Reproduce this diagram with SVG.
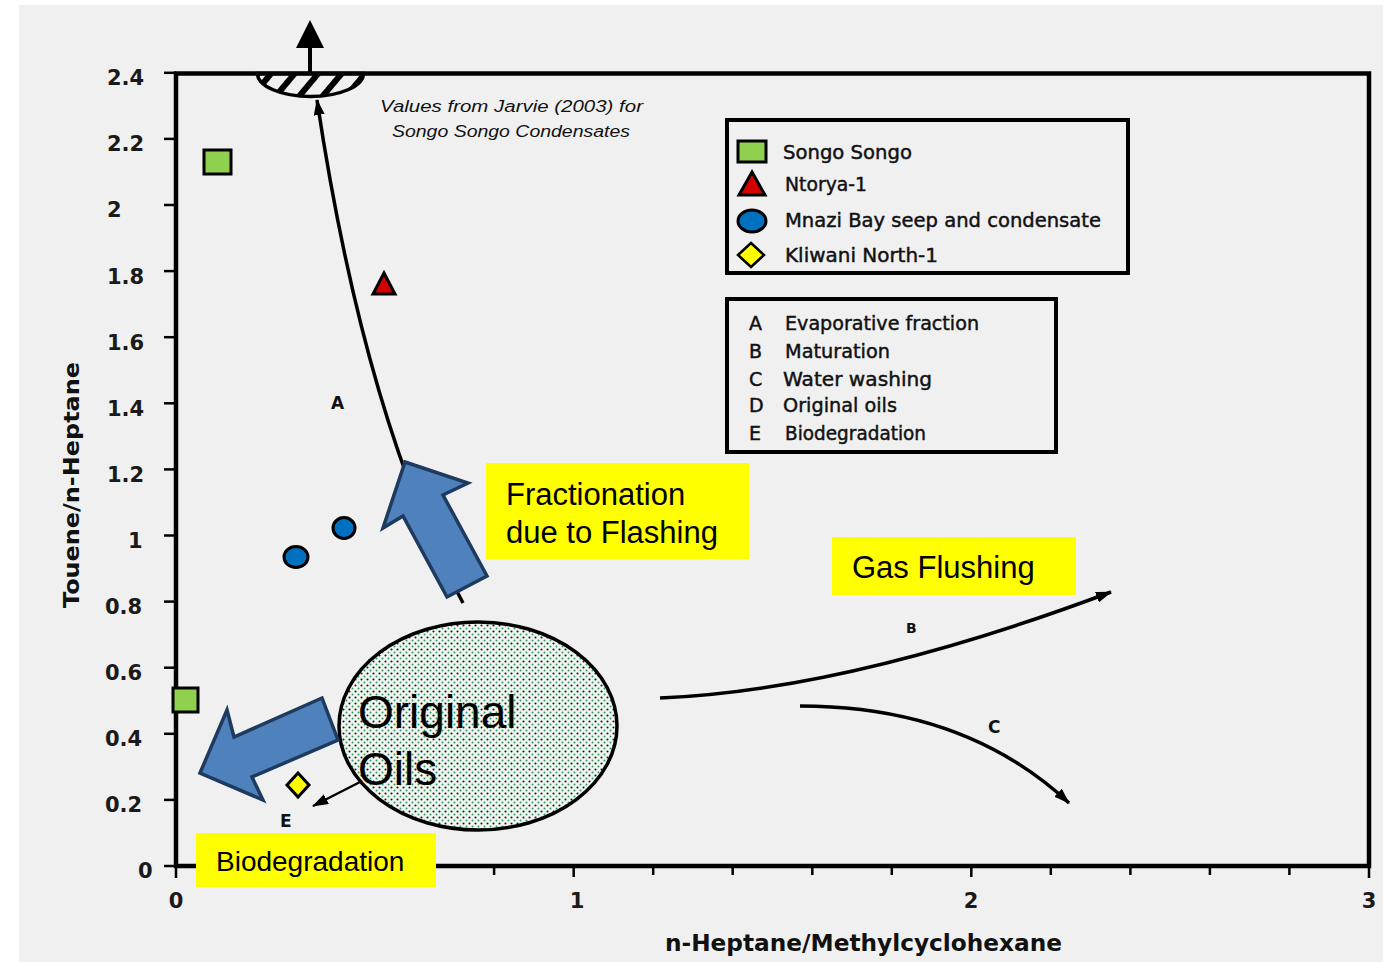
<svg xmlns="http://www.w3.org/2000/svg" width="1383" height="962" viewBox="0 0 1383 962">
<style>
.tick{font-family:"DejaVu Sans",sans-serif;font-size:21px;font-weight:bold;fill:#1a1a1a}
.leg{font-family:"DejaVu Sans",sans-serif;font-size:19px;fill:#111;stroke:#111;stroke-width:0.45}
.lab{font-family:"DejaVu Sans",sans-serif;font-weight:bold;fill:#111}
.note{font-family:"Liberation Sans",Arial,sans-serif;font-style:italic;font-size:16px;fill:#111}
.big{font-family:"Liberation Sans",Arial,sans-serif;fill:#000}
.curve{fill:none;stroke:#000;stroke-width:3.5}
.box{fill:#ffff00}
.barrow{fill:#4f81bd;stroke:#1f3a5f;stroke-width:3.5;stroke-linejoin:miter}
.axis{fill:none;stroke:#000;stroke-width:4.5}
.tk{stroke:#000;stroke-width:2.5}
</style>
<defs>
<marker id="ah" viewBox="0 0 16 11" refX="15" refY="5.5" markerWidth="16" markerHeight="11" markerUnits="userSpaceOnUse" orient="auto">
<path d="M0,0 L16,5.5 L0,11 z" fill="#000"/>
</marker>
<pattern id="hatch" width="18" height="18" patternUnits="userSpaceOnUse" patternTransform="rotate(40)">
<rect width="6" height="18" fill="#000"/>
</pattern>
<pattern id="dots" width="6" height="6" patternUnits="userSpaceOnUse">
<rect width="6" height="6" fill="#f0f5f0"/>
<circle cx="1.5" cy="1.5" r="1.05" fill="#1a1a1a"/>
<circle cx="4.5" cy="4.5" r="1" fill="#2e9a5e"/>
</pattern>
</defs>
<rect x="0" y="0" width="1383" height="962" fill="#ffffff"/>
<rect x="19" y="5" width="1364" height="957" fill="#f0f0f0"/>

<g id="axes">
<rect class="axis" x="176" y="73.5" width="1193" height="792.5"/>
<g class="tk">
<line x1="164" y1="866" x2="176" y2="866"/>
<line x1="164" y1="799.9" x2="176" y2="799.9"/>
<line x1="164" y1="733.8" x2="176" y2="733.8"/>
<line x1="164" y1="667.7" x2="176" y2="667.7"/>
<line x1="164" y1="601.6" x2="176" y2="601.6"/>
<line x1="164" y1="535.5" x2="176" y2="535.5"/>
<line x1="164" y1="469.4" x2="176" y2="469.4"/>
<line x1="164" y1="403.3" x2="176" y2="403.3"/>
<line x1="164" y1="337.2" x2="176" y2="337.2"/>
<line x1="164" y1="271.1" x2="176" y2="271.1"/>
<line x1="164" y1="205" x2="176" y2="205"/>
<line x1="164" y1="138.9" x2="176" y2="138.9"/>
<line x1="164" y1="72.8" x2="176" y2="72.8"/>
<line x1="176" y1="866" x2="176" y2="878"/>
<line x1="255.5" y1="866" x2="255.5" y2="875"/>
<line x1="335" y1="866" x2="335" y2="875"/>
<line x1="414.6" y1="866" x2="414.6" y2="875"/>
<line x1="494.1" y1="866" x2="494.1" y2="875"/>
<line x1="573.7" y1="866" x2="573.7" y2="877"/>
<line x1="653.2" y1="866" x2="653.2" y2="875"/>
<line x1="732.7" y1="866" x2="732.7" y2="875"/>
<line x1="812.3" y1="866" x2="812.3" y2="875"/>
<line x1="891.8" y1="866" x2="891.8" y2="875"/>
<line x1="971.3" y1="866" x2="971.3" y2="877"/>
<line x1="1050.8" y1="866" x2="1050.8" y2="875"/>
<line x1="1130.4" y1="866" x2="1130.4" y2="875"/>
<line x1="1209.9" y1="866" x2="1209.9" y2="875"/>
<line x1="1289.4" y1="866" x2="1289.4" y2="875"/>
<line x1="1369" y1="866" x2="1369" y2="878"/>
</g>
<g class="tick">
<text x="107" y="85">2.4</text>
<text x="107" y="151">2.2</text>
<text x="107" y="217">2</text>
<text x="107" y="284">1.8</text>
<text x="107" y="350">1.6</text>
<text x="107" y="416">1.4</text>
<text x="107" y="482">1.2</text>
<text x="128" y="548">1</text>
<text x="105" y="614">0.8</text>
<text x="105" y="680">0.6</text>
<text x="105" y="746">0.4</text>
<text x="105" y="812">0.2</text>
<text x="138" y="878">0</text>
</g>
<g class="tick" text-anchor="middle">
<text x="176" y="908">0</text>
<text x="577" y="908">1</text>
<text x="971" y="908">2</text>
<text x="1369" y="908">3</text>
</g>
<text class="lab" x="665" y="951" font-size="23" textLength="397" lengthAdjust="spacingAndGlyphs">n-Heptane/Methylcyclohexane</text>
<text class="lab" transform="translate(79,608) rotate(-90)" x="0" y="0" font-size="22" textLength="246" lengthAdjust="spacingAndGlyphs">Touene/n-Heptane</text>
</g>

<g id="hatched-zone">
<path d="M257.5,73.5 A53,23 0 0 0 363.5,73.5 Z" fill="url(#hatch)" stroke="#000" stroke-width="3.5"/>
</g>

<g id="note">
<text class="note" x="380" y="112" textLength="263" lengthAdjust="spacingAndGlyphs">Values  from  Jarvie  (2003)  for</text>
<text class="note" x="392" y="137" textLength="238" lengthAdjust="spacingAndGlyphs">Songo   Songo   Condensates</text>
</g>

<g id="connectors">
<line x1="310" y1="73" x2="310" y2="40" stroke="#000" stroke-width="4"/>
<polygon points="310,20 324,48 296,48" fill="#000"/>
<path class="curve" d="M463,603 Q365,420 317,100" marker-end="url(#ah)"/>
<path class="curve" d="M660,698 Q850,690 1111,592" marker-end="url(#ah)"/>
<path class="curve" d="M800,706 Q965,706 1069,803" marker-end="url(#ah)"/>
<line x1="362" y1="781" x2="313" y2="806" stroke="#000" stroke-width="2.5" marker-end="url(#ah)"/>
</g>

<g id="curve-labels" class="lab">
<text x="331" y="409" font-size="17">A</text>
<text x="906" y="633" font-size="14">B</text>
<text x="988" y="733" font-size="17">C</text>
<text x="280" y="827" font-size="17">E</text>
</g>

<g id="original-oils">
<ellipse cx="478" cy="726" rx="139" ry="104" fill="url(#dots)" stroke="#000" stroke-width="3.5"/>
<text class="big" x="358" y="728" font-size="46">Original</text>
<text class="big" x="358" y="785" font-size="46">Oils</text>
</g>

<g id="data-points" stroke="#000" stroke-width="3">
<rect x="204" y="150" width="27" height="24" fill="#8fd14f"/>
<rect x="173" y="688" width="25" height="24" fill="#8fd14f"/>
<polygon points="384,273 395,294 373,294" fill="#d40000"/>
<ellipse cx="344" cy="528" rx="11" ry="10.5" fill="#0070c0"/>
<ellipse cx="296" cy="557" rx="12" ry="10.5" fill="#0070c0"/>
<polygon points="298,773 309,785 298,797 287,785" fill="#ffff00"/>
</g>

<g id="arrow-fractionation">
<polygon class="barrow" points="405,462 468,483 443,495 487,576 447,597 403,516 383,528"/>
</g>
<g id="arrow-biodegradation">
<polygon class="barrow" points="200,773 227,710 234,737 322,698 338,740 252,777 263,800"/>
</g>

<g id="label-fractionation">
<rect class="box" x="486" y="463" width="263" height="96"/>
<text class="big" x="506" y="505" font-size="31">Fractionation</text>
<text class="big" x="506" y="543" font-size="31">due to Flashing</text>
</g>
<g id="label-gas-flushing">
<rect class="box" x="832" y="537" width="244" height="58"/>
<text class="big" x="852" y="578" font-size="31">Gas Flushing</text>
</g>
<g id="label-biodegradation">
<rect class="box" x="196" y="833" width="240" height="54"/>
<text class="big" x="216" y="871" font-size="28">Biodegradation</text>
</g>

<g id="legend-samples">
<rect x="727" y="120" width="401" height="153" fill="none" stroke="#000" stroke-width="4"/>
<rect x="738" y="141" width="28" height="21" fill="#8fd14f" stroke="#000" stroke-width="3"/>
<polygon points="752,172 765,195 739,195" fill="#d40000" stroke="#000" stroke-width="3"/>
<ellipse cx="752" cy="221" rx="14" ry="11" fill="#0070c0" stroke="#000" stroke-width="3"/>
<polygon points="751,243 764,255 751,267 738,255" fill="#ffff00" stroke="#000" stroke-width="2.5"/>
<text class="leg" x="783" y="159" textLength="129" lengthAdjust="spacingAndGlyphs">Songo Songo</text>
<text class="leg" x="785" y="191" textLength="82" lengthAdjust="spacingAndGlyphs">Ntorya-1</text>
<text class="leg" x="785" y="227" textLength="316" lengthAdjust="spacingAndGlyphs">Mnazi Bay seep and condensate</text>
<text class="leg" x="785" y="262" textLength="153" lengthAdjust="spacingAndGlyphs">Kliwani  North-1</text>
</g>
<g id="legend-processes">
<rect x="727" y="299" width="329" height="153" fill="none" stroke="#000" stroke-width="4"/>
<text class="leg" x="749" y="330">A</text>
<text class="leg" x="749" y="358">B</text>
<text class="leg" x="749" y="386">C</text>
<text class="leg" x="749" y="412">D</text>
<text class="leg" x="749" y="440">E</text>
<text class="leg" x="785" y="330" textLength="194" lengthAdjust="spacingAndGlyphs">Evaporative  fraction</text>
<text class="leg" x="785" y="358" textLength="105" lengthAdjust="spacingAndGlyphs">Maturation</text>
<text class="leg" x="783" y="386" textLength="149" lengthAdjust="spacingAndGlyphs">Water  washing</text>
<text class="leg" x="783" y="412" textLength="114" lengthAdjust="spacingAndGlyphs">Original  oils</text>
<text class="leg" x="785" y="440" textLength="141" lengthAdjust="spacingAndGlyphs">Biodegradation</text>
</g>
</svg>
